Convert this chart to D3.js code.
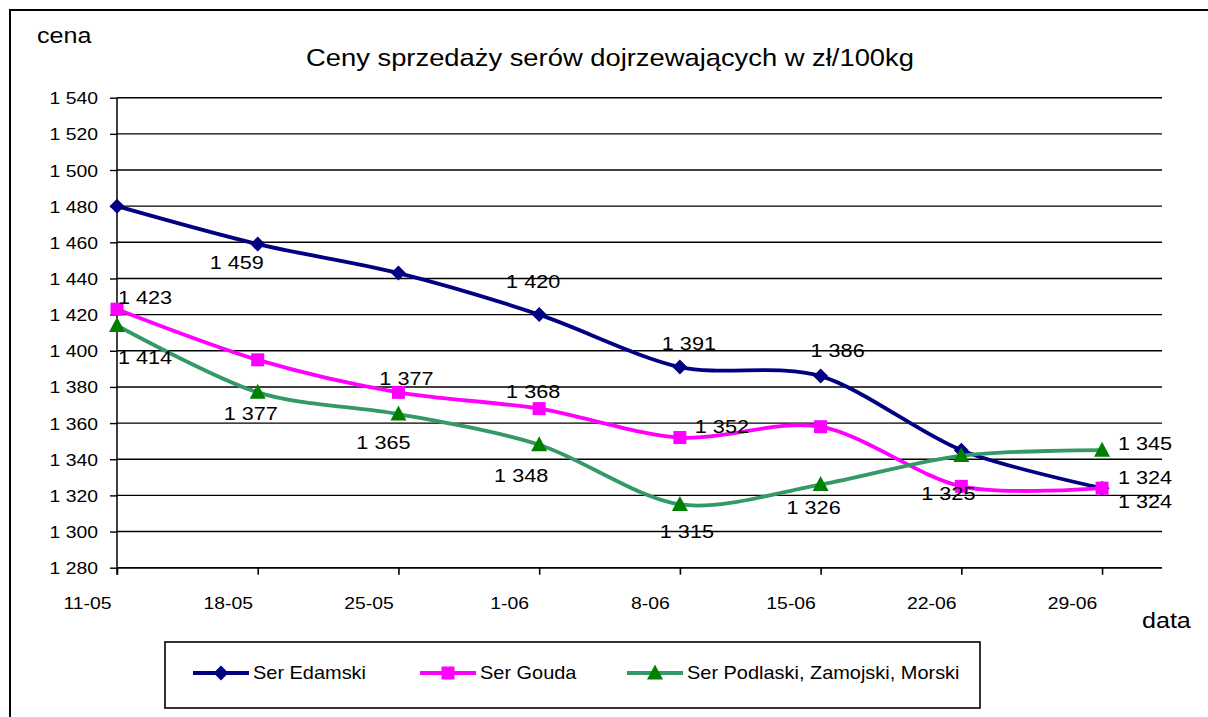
<!DOCTYPE html>
<html>
<head>
<meta charset="utf-8">
<script src="https://cdn.jsdelivr.net/npm/d3@7"></script>
<style>
  body { margin: 0; background: #fff; overflow: hidden; }
  text { font-family: "Liberation Sans", Arial, sans-serif; fill: #000; }
</style>
</head>
<body>
<script>
// chart data
const dates = ["11-05", "18-05", "25-05", "1-06", "8-06", "15-06", "22-06", "29-06"];
const edamski = [1480, 1459, 1443, 1420, 1391, 1386, 1345, 1324];
const gouda = [1423, 1395, 1377, 1368, 1352, 1358, 1325, 1324];
const podlaski = [1414, 1377, 1365, 1348, 1315, 1326, 1342, 1345];
const yTicks = [1280, 1300, 1320, 1340, 1360, 1380, 1400, 1420, 1440, 1460, 1480, 1500, 1520, 1540];
const seriesNames = ["Ser Edamski", "Ser Gouda", "Ser Podlaski, Zamojski, Morski"];

const W = 1208, H = 717;
const svg = d3.select("body").append("svg")
  .attr("width", W)
  .attr("height", H)
  .style("display", "block");

// the source picture's text is a bit wider than Arial, stretch it sideways
const SX = 1.14;
function stretch(sel) {
  sel.each(function() {
    const t = d3.select(this);
    const tx = +t.attr("x") || 0, ty = +t.attr("y") || 0;
    t.attr("x", 0).attr("y", 0)
      .attr("transform", `translate(${tx},${ty}) scale(${SX},1)`);
  });
}

// outer frame (right and bottom edges are outside the picture)
svg.append("path")
  .attr("d", `M10,${H + 10}V10H${W + 10}`)
  .attr("fill", "none").attr("stroke", "#000").attr("stroke-width", 2);

const plot = {left: 117, right: 1162, top: 97.7, bottom: 567.7};

const x = d3.scaleLinear()
  .domain([0, 7.426])
  .range([plot.left, plot.right]);

const y = d3.scaleLinear()
  .domain([1280, 1540])
  .range([plot.bottom, plot.top]);

const fmt = d => d3.format(",")(d).replace(",", " ");

// gridlines
svg.append("g")
  .selectAll("line")
  .data(yTicks)
  .enter().append("line")
  .attr("x1", plot.left).attr("x2", plot.right)
  .attr("y1", d => y(d)).attr("y2", d => y(d))
  .attr("stroke", "#000").attr("stroke-width", 1.4);

// y axis
const yAxisGroup = svg.append("g").attr("transform", `translate(${plot.left},0)`);
yAxisGroup.call(d3.axisLeft(y).tickValues(yTicks).tickFormat(fmt).tickSize(7).tickSizeOuter(0));
yAxisGroup.select(".domain").attr("stroke-width", 1.5).attr("d", `M0,${plot.top}V${plot.bottom + 7}`);
yAxisGroup.selectAll(".tick line").attr("stroke-width", 1.4);
yAxisGroup.selectAll("text")
  .style("font-size", "17px")
  .attr("x", -19).attr("y", 6).attr("dy", null);
stretch(yAxisGroup.selectAll("text"));

// x axis
const xAxisGroup = svg.append("g").attr("transform", `translate(0,${plot.bottom})`);
xAxisGroup.call(d3.axisBottom(x).tickValues(d3.range(dates.length)).tickFormat(i => dates[i]).tickSize(7).tickSizeOuter(0));
xAxisGroup.select(".domain").attr("stroke-width", 1.5).attr("d", `M${plot.left},0H${plot.right}`);
xAxisGroup.selectAll(".tick line").attr("stroke-width", 1.6);
xAxisGroup.selectAll("text").style("font-size", "17px")
  .attr("x", -30).attr("y", 41).attr("dy", null);
stretch(xAxisGroup.selectAll("text"));

// titles
const titles = svg.append("g");
titles.append("text")
  .attr("x", 610).attr("y", 66)
  .attr("text-anchor", "middle")
  .style("font-size", "24px")
  .text("Ceny sprzedaży serów dojrzewających w zł/100kg");

titles.append("text")
  .attr("x", 37).attr("y", 43)
  .style("font-size", "22px")
  .text("cena");

titles.append("text")
  .attr("x", 1142).attr("y", 628)
  .style("font-size", "22px")
  .text("data");
stretch(titles.selectAll("text"));

// markers
const markerPath = {
  diamond: "M0,-7.5L7.5,0L0,7.5L-7.5,0Z",
  square: "M-6.5,-6.5H6.5V6.5H-6.5Z",
  triangle: "M0,-8.5L8,6.5H-8Z"
};

const series = [
  {name: seriesNames[0], values: edamski, line: "#000080", fill: "#000080", marker: "diamond",
   labels: [null, [-21, 25], null, [-6, -27], [9, -17], [17, -19], null, [43, 20]]},
  {name: seriesNames[1], values: gouda, line: "#ff00ff", fill: "#ff00ff", marker: "square",
   labels: [[28, -5], null, [8, -7], [-6, -11], [42, -5], null, [-13, 14], [43, -4]]},
  {name: seriesNames[2], values: podlaski, line: "#339966", fill: "#008000", marker: "triangle",
   labels: [[28, 39], [-7, 28], [-15, 35], [-18, 37], [7, 34], [-7, 29], null, [43, 0]]}
];

const line = d3.line()
  .x((d, i) => x(i))
  .y(d => y(d))
  .curve(d3.curveCardinal.tension(0.1));

series.forEach(s => {
  svg.append("path")
    .datum(s.values)
    .attr("d", line)
    .attr("fill", "none")
    .attr("stroke", s.line)
    .attr("stroke-width", 3.8);

  svg.append("g")
    .selectAll("path")
    .data(s.values)
    .enter().append("path")
    .attr("d", markerPath[s.marker])
    .attr("transform", (d, i) => `translate(${x(i)},${y(d)})`)
    .attr("fill", s.fill);
});

// data labels
series.forEach(s => {
  const g = svg.append("g");
  g.selectAll("text")
    .data(s.values.map((v, i) => ({v, i, off: s.labels[i]})).filter(d => d.off))
    .enter().append("text")
    .attr("x", d => x(d.i) + d.off[0])
    .attr("y", d => y(d.v) + d.off[1])
    .attr("text-anchor", "middle")
    .style("font-size", "19px")
    .text(d => fmt(d.v));
  stretch(g.selectAll("text"));
});

// legend
const legend = svg.append("g");
legend.append("rect")
  .attr("x", 165).attr("y", 642)
  .attr("width", 815).attr("height", 66)
  .attr("fill", "#fff").attr("stroke", "#000").attr("stroke-width", 1.6);

const legendX = [193, 420, 627];
series.forEach((s, k) => {
  const g = legend.append("g").attr("transform", `translate(${legendX[k]},673)`);
  g.append("line")
    .attr("x1", 0).attr("x2", 56)
    .attr("stroke", s.line).attr("stroke-width", 3.8);
  g.append("path")
    .attr("d", markerPath[s.marker])
    .attr("transform", "translate(28,0)")
    .attr("fill", s.fill);
  g.append("text")
    .attr("x", 60).attr("y", 6)
    .style("font-size", "17.5px")
    .text(s.name);
  stretch(g.select("text"));
});
</script>
</body>
</html>
